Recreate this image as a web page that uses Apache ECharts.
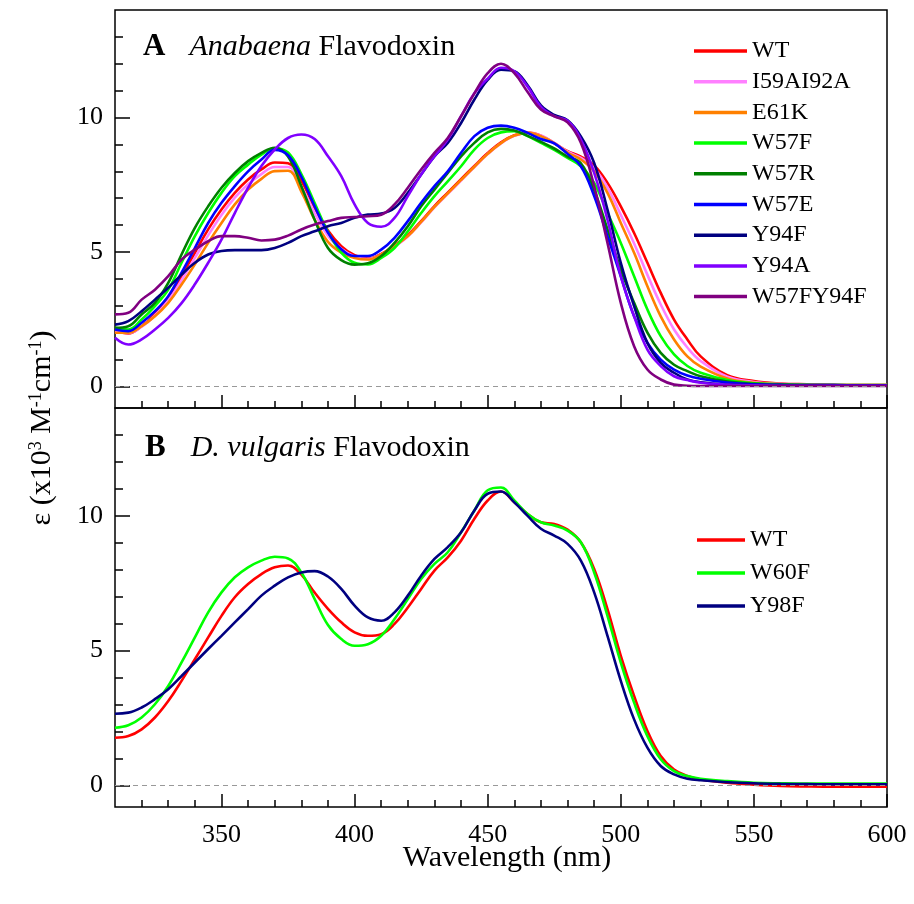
<!DOCTYPE html>
<html><head><meta charset="utf-8">
<script src="https://cdn.jsdelivr.net/npm/echarts@6/dist/echarts.min.js"></script>
<style>html,body{margin:0;padding:0;background:#fff}#c{width:914px;height:904px}</style>
</head><body><div id="c"></div>
<script>
// Wavelengths (nm)
const wavelength = [310,315,320,325,330,335,340,345,350,355,360,365,370,375,380,385,390,395,400,405,410,415,420,425,430,435,440,445,450,455,460,465,470,475,480,485,490,495,500,505,510,515,520,525,530,540,550,560,570,580,590,600];

// Panel A: Anabaena flavodoxin (x10^3 M^-1 cm^-1)
const A_WT       = [2.06,1.97,2.24,2.68,3.30,4.10,4.97,5.84,6.58,7.20,7.70,8.07,8.33,8.30,7.65,6.65,5.80,5.22,4.88,4.76,4.93,5.25,5.63,6.15,6.71,7.21,7.71,8.20,8.68,9.08,9.34,9.44,9.33,9.05,8.75,8.55,8.22,7.57,6.70,5.71,4.60,3.48,2.49,1.75,1.12,0.42,0.20,0.11,0.08,0.06,0.05,0.05];
const A_I59AI92A = [2.03,1.99,2.22,2.64,3.20,3.95,4.78,5.62,6.38,7.02,7.52,7.90,8.16,8.16,7.45,6.45,5.60,5.12,4.83,4.74,4.90,5.20,5.58,6.10,6.66,7.16,7.66,8.16,8.64,9.04,9.32,9.43,9.33,9.06,8.73,8.50,8.12,7.40,6.38,5.32,4.15,3.05,2.12,1.45,0.95,0.36,0.17,0.10,0.07,0.06,0.05,0.05];
const A_E61K     = [2.00,2.00,2.24,2.61,3.11,3.79,4.54,5.34,6.08,6.77,7.32,7.72,8.01,8.02,7.25,6.20,5.38,4.98,4.78,4.72,4.91,5.22,5.59,6.12,6.68,7.18,7.68,8.17,8.65,9.05,9.33,9.43,9.31,9.05,8.70,8.44,8.00,7.20,6.08,4.97,3.73,2.61,1.75,1.12,0.74,0.30,0.14,0.09,0.06,0.05,0.05,0.05];
const A_W57F     = [2.18,2.12,2.49,2.99,3.60,4.60,5.59,6.45,7.20,7.82,8.25,8.62,8.86,8.70,7.90,6.82,5.75,4.98,4.60,4.54,4.78,5.15,5.77,6.45,7.08,7.63,8.19,8.81,9.24,9.45,9.49,9.31,9.06,8.80,8.50,8.19,7.57,6.46,5.34,4.10,2.86,1.87,1.19,0.76,0.51,0.24,0.12,0.08,0.06,0.05,0.05,0.05];
const A_W57R     = [2.18,2.24,2.68,3.11,3.85,4.91,5.90,6.70,7.39,7.94,8.38,8.69,8.88,8.55,7.45,6.20,5.15,4.70,4.53,4.58,4.85,5.34,5.96,6.70,7.32,7.94,8.56,9.06,9.45,9.58,9.52,9.32,9.10,8.85,8.55,8.30,7.30,5.84,4.35,3.11,2.00,1.25,0.81,0.57,0.38,0.18,0.10,0.07,0.05,0.05,0.04,0.04];
const A_W57E     = [2.12,2.06,2.37,2.80,3.36,4.23,5.15,6.08,6.83,7.45,8.00,8.44,8.80,8.60,7.80,6.70,5.72,5.10,4.85,4.85,5.09,5.53,6.15,6.83,7.45,8.00,8.69,9.31,9.62,9.70,9.62,9.43,9.20,9.04,8.65,8.19,7.08,5.59,4.10,2.61,1.62,1.00,0.63,0.41,0.29,0.15,0.08,0.06,0.05,0.05,0.04,0.04];
const A_Y94F     = [2.30,2.43,2.80,3.23,3.67,4.16,4.60,4.91,5.04,5.07,5.07,5.07,5.15,5.34,5.59,5.77,5.96,6.08,6.27,6.39,6.43,6.64,7.20,7.88,8.56,9.06,9.80,10.67,11.40,11.78,11.72,11.20,10.45,10.10,9.90,9.30,8.31,6.58,4.60,2.99,1.62,0.88,0.51,0.26,0.16,0.08,0.05,0.04,0.04,0.03,0.03,0.03];
const A_Y94A     = [1.81,1.56,1.75,2.12,2.55,3.10,3.80,4.60,5.46,6.45,7.39,8.20,8.81,9.24,9.37,9.20,8.56,7.82,6.77,6.08,5.94,6.27,7.08,7.88,8.56,9.18,10.05,10.90,11.45,11.85,11.72,11.15,10.40,10.05,9.88,9.18,7.94,6.20,4.10,2.61,1.37,0.76,0.38,0.24,0.14,0.07,0.04,0.03,0.03,0.03,0.03,0.03];
const A_W57FY94F = [2.68,2.74,3.23,3.60,4.10,4.72,5.09,5.40,5.59,5.59,5.53,5.43,5.46,5.61,5.84,6.02,6.15,6.27,6.30,6.33,6.39,6.77,7.39,8.07,8.69,9.24,10.05,10.90,11.65,12.00,11.65,10.95,10.30,10.05,9.82,9.06,7.45,5.34,3.11,1.50,0.63,0.26,0.07,0.03,0.02,0.02,0.02,0.02,0.02,0.02,0.02,0.02];

// Panel B: D. vulgaris flavodoxin
const B_WT   = [1.77,1.83,2.08,2.52,3.13,3.88,4.68,5.49,6.29,6.98,7.47,7.84,8.09,8.16,7.82,7.15,6.55,6.05,5.68,5.55,5.61,5.99,6.60,7.29,7.97,8.46,9.08,9.89,10.57,10.90,10.50,10.07,9.76,9.70,9.49,9.02,8.03,6.54,4.81,3.32,2.02,1.09,0.59,0.35,0.22,0.10,0.03,-0.02,-0.04,-0.05,-0.05,-0.05];
const B_W60F = [2.14,2.23,2.52,3.01,3.69,4.56,5.49,6.42,7.16,7.72,8.09,8.34,8.48,8.42,7.90,6.91,5.95,5.43,5.18,5.24,5.55,6.17,6.91,7.66,8.22,8.65,9.39,10.20,10.95,11.05,10.57,10.07,9.76,9.64,9.45,9.02,7.90,6.29,4.56,3.07,1.83,0.97,0.53,0.35,0.25,0.16,0.10,0.08,0.07,0.07,0.07,0.07];
const B_Y98F = [2.66,2.70,2.89,3.20,3.57,4.06,4.56,5.06,5.55,6.05,6.54,7.04,7.41,7.72,7.90,7.95,7.75,7.29,6.67,6.23,6.11,6.42,7.04,7.78,8.40,8.84,9.39,10.20,10.82,10.90,10.50,10.00,9.52,9.27,8.96,8.34,7.16,5.55,3.88,2.45,1.40,0.72,0.41,0.25,0.19,0.12,0.08,0.06,0.05,0.04,0.04,0.04];

const namesA = ['WT','I59AI92A','E61K','W57F','W57R','W57E','Y94F','Y94A','W57FY94F'];
const valuesA = [A_WT,A_I59AI92A,A_E61K,A_W57F,A_W57R,A_W57E,A_Y94F,A_Y94A,A_W57FY94F];
const colorsA = ['#ff0000','#ff80ff','#ff8000','#00ff00','#008000','#0000ff','#000080','#8000ff','#800080'];
const namesB = ['WT','W60F','Y98F'];
const valuesB = [B_WT,B_W60F,B_Y98F];
const colorsB = ['#ff0000','#00ff00','#000080'];

const majorX = [350,400,450,500,550,600];
const minorX = [320,330,340,360,370,380,390,410,420,430,440,460,470,480,490,510,520,530,540,560,570,580,590];
const majorY = [0,5,10];
const minorY = [1,2,3,4,6,7,8,9,11,12,13];

const FONT = '"Liberation Serif","Times New Roman",serif';
const zip = v => wavelength.map((w,i)=>[w,v[i]]);

function xAx(grid, ticks, len, labels){
  return {type:'value', gridIndex:grid, position:'bottom', min:310, max:600,
    axisLine:{show:false, onZero:false}, splitLine:{show:false},
    axisTick:{show:true, inside:true, length:len, customValues:ticks, lineStyle:{color:'#000', width:1.5}},
    axisLabel:{show:labels, customValues:ticks, fontFamily:FONT, fontSize:26, color:'#000', margin:15}};
}
function yAx(grid, ticks, len, labels){
  return {type:'value', gridIndex:grid, position:'left', min:-0.8, max:14,
    axisLine:{show:false, onZero:false}, splitLine:{show:false},
    axisTick:{show:true, inside:true, length:len, customValues:ticks, lineStyle:{color:'#000', width:1.5}},
    axisLabel:{show:labels, customValues:ticks, fontFamily:FONT, fontSize:26, color:'#000', margin:12}};
}

const zeroLine = {silent:true, symbol:['none','none'], label:{show:false},
  lineStyle:{type:[5,4], color:'#999', width:1}, data:[{yAxis:0}]};

const series = [];
namesA.forEach((n,i)=>series.push({name:n, type:'line', xAxisIndex:0, yAxisIndex:0, data:zip(valuesA[i]),
  showSymbol:false, symbol:'none', smooth:0.4, lineStyle:{width:2.6, color:colorsA[i]}, itemStyle:{color:colorsA[i]},
  markLine: i===0 ? zeroLine : undefined}));
namesB.forEach((n,i)=>series.push({name:n, type:'line', xAxisIndex:2, yAxisIndex:2, data:zip(valuesB[i]),
  showSymbol:false, symbol:'none', smooth:0.4, lineStyle:{width:2.6, color:colorsB[i]}, itemStyle:{color:colorsB[i]},
  markLine: i===0 ? zeroLine : undefined}));

const chart = echarts.init(document.getElementById('c'), null, {renderer:'canvas'});
chart.setOption({
  animation:false,
  backgroundColor:'#fff',
  grid:[
    {left:115, top:10, width:772, height:398, show:true, borderColor:'#000', borderWidth:1.5, backgroundColor:'transparent'},
    {left:115, top:408, width:772, height:399, show:true, borderColor:'#000', borderWidth:1.5, backgroundColor:'transparent'}
  ],
  xAxis:[xAx(0,majorX,13,false), xAx(0,minorX,7,false), xAx(1,majorX,13,true), xAx(1,minorX,7,false)],
  yAxis:[yAx(0,majorY,15,true), yAx(0,minorY,8,false), yAx(1,majorY,15,true), yAx(1,minorY,8,false)],
  legend:[
    {data:namesA, orient:'vertical', left:689, top:34, icon:'rect', itemWidth:53, itemHeight:3.5, itemGap:6.7,
     selectedMode:false, textStyle:{fontFamily:FONT, fontSize:24, color:'#000', lineHeight:24}},
    {data:namesB, orient:'vertical', left:692, top:523, icon:'rect', itemWidth:48, itemHeight:3.5, itemGap:9,
     selectedMode:false, textStyle:{fontFamily:FONT, fontSize:24, color:'#000', lineHeight:24}}
  ],
  graphic:[
    {type:'text', x:143, y:47, style:{text:'{b|A}{i|Anabaena} Flavodoxin', fontFamily:FONT, fontSize:30, fill:'#000',
      textVerticalAlign:'middle', verticalAlign:'middle',
      rich:{b:{fontWeight:'bold', fontFamily:FONT, fontSize:31, padding:[0,24,0,0]}, i:{fontStyle:'italic', fontFamily:FONT, fontSize:30}}}},
    {type:'text', x:145, y:448, style:{text:'{b|B}{i|D. vulgaris} Flavodoxin', fontFamily:FONT, fontSize:30, fill:'#000',
      textVerticalAlign:'middle', verticalAlign:'middle',
      rich:{b:{fontWeight:'bold', fontFamily:FONT, fontSize:31, padding:[0,25,0,0]}, i:{fontStyle:'italic', fontFamily:FONT, fontSize:30}}}},
    {type:'text', x:42, y:428, rotation:Math.PI/2, style:{text:'ε (x10{s|3} M{s|-1}cm{s|-1})', fontFamily:FONT, fontSize:30, fill:'#000',
      textAlign:'center', align:'center', textVerticalAlign:'middle', verticalAlign:'middle',
      rich:{s:{fontFamily:FONT, fontSize:18, verticalAlign:'top', lineHeight:30}}}},
    {type:'text', x:507, y:858, style:{text:'Wavelength (nm)', fontFamily:FONT, fontSize:30, fill:'#000',
      textAlign:'center', align:'center', textVerticalAlign:'middle', verticalAlign:'middle'}}
  ],
  series:series
});
</script>
</body></html>
